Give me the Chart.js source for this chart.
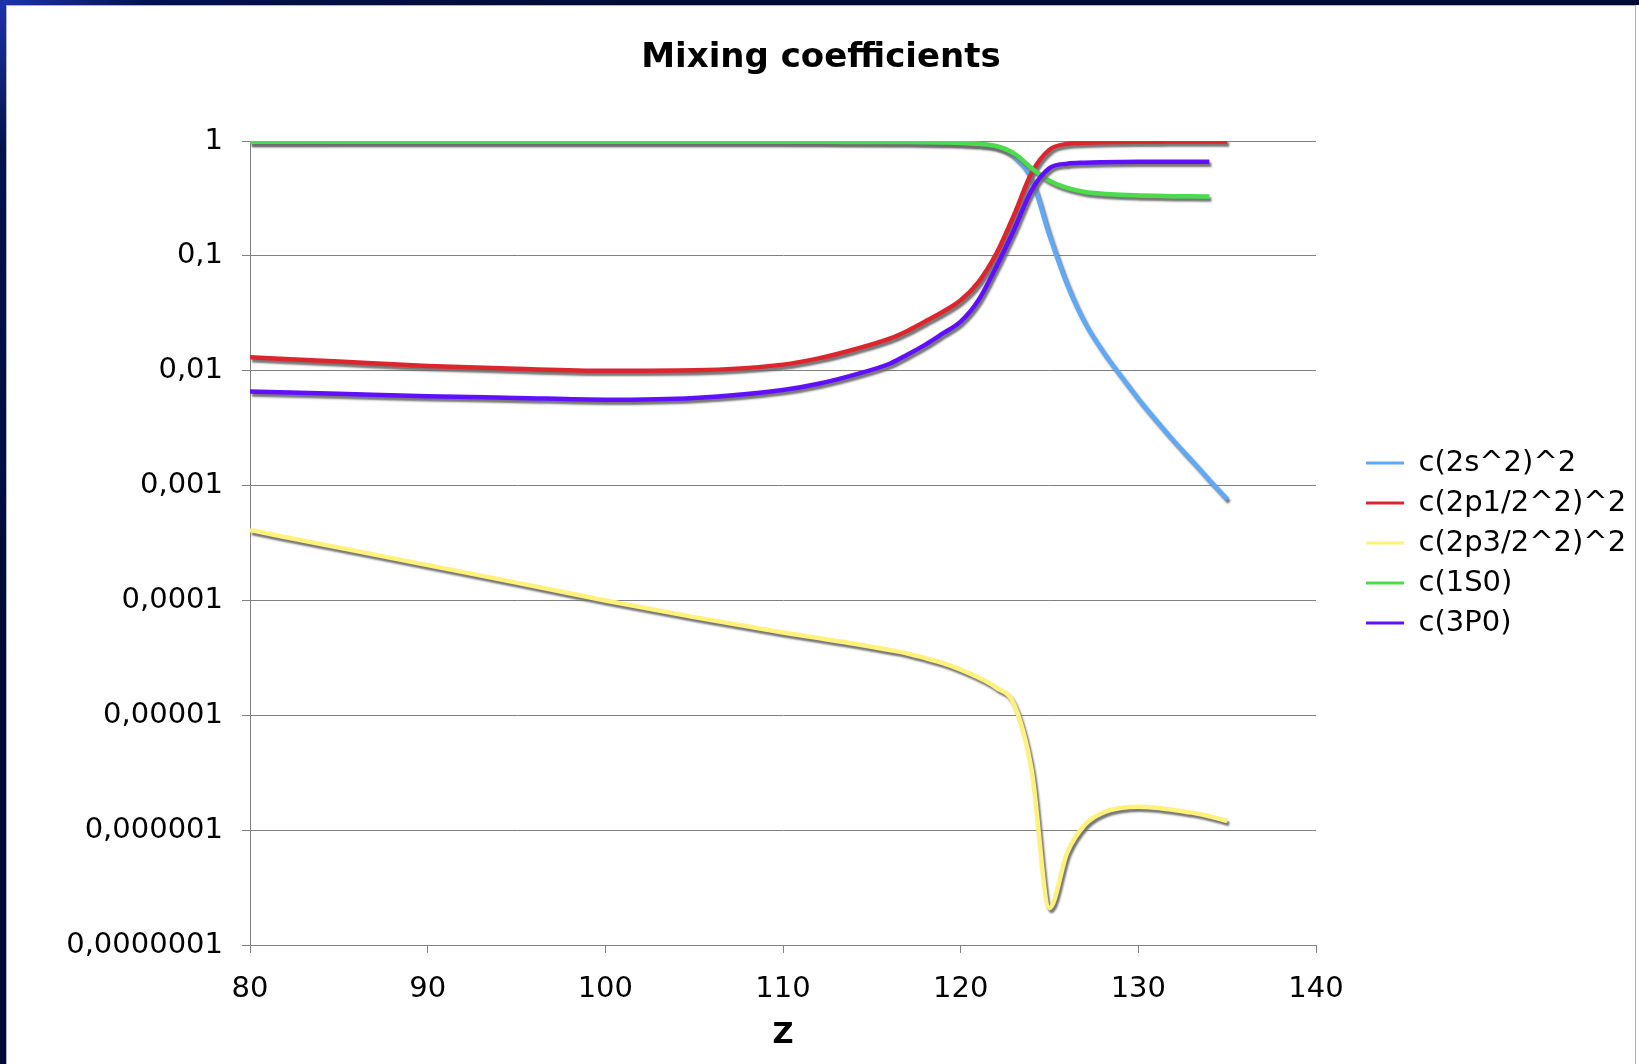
<!DOCTYPE html>
<html>
<head>
<meta charset="utf-8">
<title>Mixing coefficients</title>
<script src="https://cdn.jsdelivr.net/npm/chart.js@4.4.1/dist/chart.umd.min.js"></script>
<style>
  html, body { margin: 0; padding: 0; background: #fff; width: 1639px; height: 1064px; overflow: hidden; }
  .frame-top { position: absolute; left: 0; top: 0; width: 1639px; height: 5px;
    background: linear-gradient(to right, #1c33b0 0px, #03124a 150px, #010b33 700px); }
  .frame-left { position: absolute; left: 0; top: 0; width: 6px; height: 1064px;
    background: linear-gradient(to bottom, #1c33b0 0px, #03124a 150px, #010b33 700px); }
  .chart-box { position: absolute; left: 6px; top: 5px; width: 1630px; height: 1060px;
    box-sizing: border-box; border: 1px solid #b4b4b4; background: #fff; }
  canvas { display: block; }
</style>
</head>
<body>
<div class="frame-top"></div>
<div class="frame-left"></div>
<div class="chart-box"><canvas id="chart" width="1628" height="1058"></canvas></div>
<script>
// Z values (x axis)
const zValues = [80, 85, 90, 95, 100, 105, 110, 112, 114, 116, 117, 118, 119, 120,
  121, 122, 123, 124, 125, 126, 127, 128, 129, 130, 131, 132, 133, 134, 135];

// c(2s^2)^2
const c2s = [0.987, 0.988, 0.989, 0.99, 0.99, 0.99, 0.988, 0.987, 0.985, 0.981, 0.978, 0.973, 0.967, 0.959,
  0.94, 0.89, 0.74, 0.46, 0.15, 0.056, 0.026, 0.0148, 0.0091, 0.0057, 0.0037, 0.00245, 0.00166, 0.00112, 0.00076];

// c(2p1/2^2)^2
const c2p12 = [0.0131, 0.012, 0.011, 0.0104, 0.01, 0.0101, 0.0113, 0.0128, 0.0153, 0.019, 0.0222, 0.0268, 0.0326, 0.041,
  0.059, 0.104, 0.226, 0.53, 0.84, 0.944, 0.965, 0.976, 0.981, 0.985, 0.987, 0.988, 0.989, 0.99, 0.99];

// c(2p3/2^2)^2
const c2p32 = [4.1e-4, 2.88e-4, 2.03e-4, 1.43e-4, 1.0e-4, 7.15e-5, 5.25e-5, 4.7e-5, 4.2e-5, 3.7e-5, 3.45e-5, 3.15e-5, 2.85e-5, 2.5e-5,
  2.13e-5, 1.74e-5, 1.25e-5, 3.3e-6, 2.1e-7, 6.4e-7, 1.12e-6, 1.42e-6, 1.56e-6, 1.6e-6, 1.57e-6, 1.5e-6, 1.42e-6, 1.32e-6, 1.2e-6];

// c(1S0) - stops at Z = 134
const c1S0 = [0.985, 0.985, 0.985, 0.985, 0.985, 0.985, 0.984, 0.983, 0.982, 0.98, 0.978, 0.975, 0.97, 0.963,
  0.945, 0.905, 0.78, 0.58, 0.45, 0.39, 0.36, 0.347, 0.34, 0.336, 0.333, 0.331, 0.33, 0.328, null];

// c(3P0) - stops at Z = 134
const c3P0 = [0.0066, 0.0063, 0.006, 0.0058, 0.0056, 0.0058, 0.0068, 0.0077, 0.0092, 0.0115, 0.0138, 0.0168, 0.0211, 0.0267,
  0.041, 0.08, 0.168, 0.374, 0.58, 0.635, 0.648, 0.654, 0.657, 0.659, 0.66, 0.66, 0.66, 0.66, null];

const seriesLabels = ['c(2s^2)^2', 'c(2p1/2^2)^2', 'c(2p3/2^2)^2', 'c(1S0)', 'c(3P0)'];
const seriesValues = [c2s, c2p12, c2p32, c1S0, c3P0];
const seriesColors = ['#5eaaf8', '#dc262e', '#fff27c', '#4bdb4b', '#6010ff'];

const xTicks = [80, 90, 100, 110, 120, 130, 140];
const yTickValues = [1e-7, 1e-6, 1e-5, 1e-4, 1e-3, 1e-2, 1e-1, 1];
const yTickLabels = ['0,0000001', '0,000001', '0,00001', '0,0001', '0,001', '0,01', '0,1', '1'];

function toPoints(values) {
  return zValues.map((z, i) => ({x: z, y: values[i]})).filter(p => p.y !== null);
}

// ombre grise sous chaque courbe (comme dans Excel)
const lineShadow = {
  id: 'lineShadow',
  beforeDatasetDraw(chart) {
    const ctx = chart.ctx;
    ctx.save();
    ctx.shadowColor = 'rgba(110, 110, 110, 0.95)';
    ctx.shadowOffsetX = 2;
    ctx.shadowOffsetY = 3;
    ctx.shadowBlur = 2;
  },
  afterDatasetDraw(chart) {
    chart.ctx.restore();
  }
};

Chart.defaults.font.family = 'DejaVu Sans';
Chart.defaults.color = '#000';

const datasets = seriesLabels.map((label, i) => ({
  label: label,
  data: toPoints(seriesValues[i]),
  borderColor: seriesColors[i],
  backgroundColor: seriesColors[i],
  borderWidth: 4.5,
  pointRadius: 0,
  pointHoverRadius: 0,
  cubicInterpolationMode: 'monotone',
  fill: false,
  order: seriesLabels.length - i
}));

new Chart(document.getElementById('chart'), {
  type: 'line',
  data: { datasets: datasets },
  plugins: [lineShadow],
  options: {
    responsive: false,
    animation: false,
    devicePixelRatio: 1,
    layout: { padding: 0 },
    plugins: {
      title: {
        display: true,
        text: 'Mixing coefficients',
        font: { size: 34, weight: 'bold' },
        color: '#000',
        padding: { top: 31.6, bottom: 62.6 }
      },
      legend: {
        position: 'right',
        fullSize: false,
        maxWidth: 280,
        labels: {
          font: { size: 29 },
          color: '#000',
          padding: 11,
          usePointStyle: true,
          pointStyle: 'line',
          pointStyleWidth: 38,
          sort: (a, b) => a.datasetIndex - b.datasetIndex,
          generateLabels: (chart) => Chart.defaults.plugins.legend.labels.generateLabels(chart)
            .map(item => Object.assign(item, { lineWidth: 3 }))
        }
      },
      tooltip: { enabled: false }
    },
    scales: {
      x: {
        type: 'linear',
        position: 'bottom',
        min: 80,
        max: 140,
        afterBuildTicks: (scale) => { scale.ticks = xTicks.map(v => ({value: v})); },
        afterFit: (scale) => { scale.height = 119; },
        ticks: { font: { size: 29 }, color: '#000', padding: 18.8, maxRotation: 0,
          callback: (v) => String(v) },
        grid: { drawOnChartArea: false, drawTicks: true, tickLength: 8, color: '#808080', lineWidth: 1 },
        border: { display: true, color: '#808080', width: 1 },
        title: {
          display: true,
          text: 'Z',
          font: { size: 29, weight: 'bold' },
          color: '#000',
          padding: { top: 0, bottom: 11.6 }
        }
      },
      y: {
        type: 'logarithmic',
        position: 'left',
        min: 1e-7,
        max: 1,
        afterBuildTicks: (scale) => { scale.ticks = yTickValues.map(v => ({value: v})); },
        afterFit: (scale) => { scale.width = 243; },
        ticks: { font: { size: 29 }, color: '#000', padding: 19,
          callback: (v) => yTickLabels[yTickValues.indexOf(v)] },
        grid: { color: '#808080', lineWidth: 1, drawTicks: true, tickLength: 8 },
        border: { display: true, color: '#808080', width: 1 }
      },
      // espace vide entre la zone de tracé et la légende
      gap: {
        type: 'linear',
        position: 'right',
        display: true,
        ticks: { display: false },
        grid: { display: false },
        border: { display: false },
        afterFit: (scale) => { scale.width = 39; }
      }
    }
  }
});
</script>
</body>
</html>
